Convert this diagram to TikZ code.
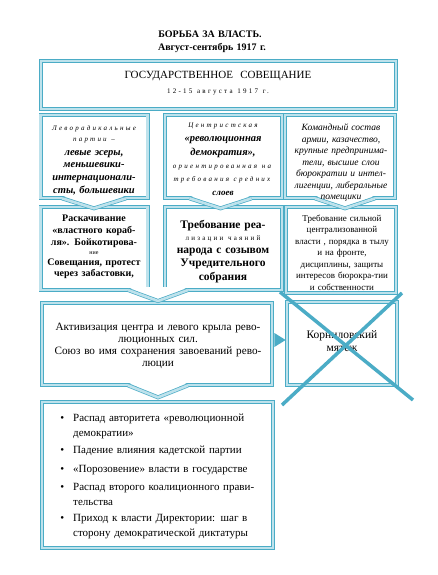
\documentclass[tikz,border=0pt]{standalone}
\usepackage{fontspec}
\setmainfont{Liberation Serif}
\newfontfamily\spc[LetterSpace=32]{Liberation Serif}
\usetikzlibrary{calc}
\definecolor{edge}{RGB}{75,172,198}
\definecolor{band}{RGB}{190,226,236}
\newcommand\fs[2]{\fontsize{#1}{#2}\selectfont}
\tikzset{
  frame/.style={draw=edge, line width=0.7pt, double=band, double distance=2.6pt, fill=white, inner sep=0pt},
  vee/.style={draw=edge, line width=0.7pt, double=band, double distance=2.6pt, line join=miter},
  txt/.style={inner sep=0pt, anchor=base, align=center, text width=#1},
  txt/.default=120pt,
  item/.style={inner sep=0pt, anchor=base west, align=left, text width=200pt, font=\fs{11}{15}},
  cross/.style={draw=edge, line width=3.5pt}
}
\begin{document}
\begin{tikzpicture}[x=1pt,y=-1pt]
\useasboundingbox (0,0) rectangle (437,575);
\fill[white] (0,0) rectangle (437,575);

% title
\node[txt=250pt, font=\bfseries\fs{10}{12}] (title1) at (210,38) {БОРЬБА ЗА ВЛАСТЬ.};
\node[txt=250pt, font=\bfseries\fs{10}{12}] (title2) at (212,51) {Август-сентябрь 1917 г.};

% frames
\node[frame, minimum width=355pt, minimum height=48pt] (top) at (218.5,85) {};
\node[frame, minimum width=107pt, minimum height=83pt] (l2) at (94,156.5) {};
\node[frame, minimum width=117pt, minimum height=83pt] (m2) at (223.5,156.5) {};
\node[frame, minimum width=110pt, minimum height=83pt] (r2) at (340,156.5) {};
\node[frame, minimum width=107pt, minimum height=83pt] (l3) at (94,248.5) {};
\node[frame, minimum width=117pt, minimum height=83pt] (m3) at (223.5,248.5) {};
\node[frame, minimum width=110pt, minimum height=86pt] (r3) at (341,250) {};
\node[frame, minimum width=230pt, minimum height=82pt] (act) at (157,344) {};
\node[frame, minimum width=110pt, minimum height=83pt] (korn) at (342,343.5) {};
\node[frame, minimum width=231pt, minimum height=146pt] (res) at (157.5,475) {};

% chevrons
\coordinate (c1) at ($(l2.south)+(0,0)$);
\coordinate (c2) at ($(m2.south)+(-3,0)$);
\coordinate (c3) at ($(r2.south)+(5,0)$);
\coordinate (c4) at (158,290);
\coordinate (c5) at ($(act.south)+(1,0)$);
\foreach \c/\h/\d in {c1/32/10, c2/31/10, c3/30/10, c4/30/11, c5/30/12}{
  \fill[white] ($(\c)+(-\h,-3)$) -- ($(\c)+(0,\d)$) -- ($(\c)+(\h,-3)$) -- cycle;
  \draw[vee] ($(\c)+(-\h,0)$) -- ($(\c)+(0,\d)$) -- ($(\c)+(\h,0)$);
}

% arrow to Kornilov box
\fill[edge] ($(act.east)+(2,-11)$) -- ($(korn.west)+(-1,-3.5)$) -- ($(act.east)+(2,3)$) -- cycle;

% texts
\node[txt=110pt, font=\spc\itshape\fs{7}{10}] (t2a) at (94,131) {Леворадикальные\\партии \ –};
\node[txt=110pt, font=\bfseries\itshape\fs{10.5}{12.7}] (t2b) at (94,155) {левые эсеры,\\меньшевики-\\интернационали-\\сты, большевики};

\node[txt=115pt, font=\spc\itshape\fs{7}{10}] (t2c) at (223,128) {Центристская};
\node[txt=115pt, font=\bfseries\itshape\fs{10.5}{14}] (t2d) at (223,141) {«революционная\\демократия»,};
\node[txt=118pt, font=\spc\itshape\fs{7}{13}] (t2e) at (222,168) {ориентированная \ на\\требования \ средних};
\node[txt=115pt, font=\bfseries\itshape\fs{9}{11}] (t2f) at (223,195) {слоев};

\node[txt=115pt, font=\itshape\fs{9.5}{11.5}] (t2g) at (341,131) {Командный состав\\армии, казачество,\\крупные предпринима-\\тели, высшие слои\\бюрократии и интел-\\лигенции, либеральные\\помещики};

\node[txt=110pt, font=\bfseries\fs{10}{12}] (t3a) at (94,221) {Раскачивание\\«властного кораб-\\ля». Бойкотирова-};
\node[txt=110pt, font=\fs{6}{8}] (t3b) at (94,254) {ние};
\node[txt=110pt, font=\bfseries\fs{10}{11.5}] (t3c) at (94,265) {Совещания, протест\\через забастовки,};

\node[txt=115pt, font=\bfseries\fs{11.5}{12}] (t3d) at (223,228) {Требование реа-};
\node[txt=115pt, font=\spc\fs{7}{8}] (t3e) at (223,240) {лизации \ чаяний};
\node[txt=115pt, font=\bfseries\fs{11.5}{13.5}] (t3f) at (223,253) {народа с созывом\\Учредительного\\собрания};

\node[txt=115pt, font=\fs{9}{11.5}] (t3g) at (342,221) {Требование сильной\\централизованной\\власти , порядка в тылу\\и на фронте,\\дисциплины, защиты\\интересов бюрокра-тии\\и собственности};

\node[txt=228pt, font=\fs{11.2}{12.3}] (t4a) at (158,330) {Активизация центра и левого крыла рево-\\люционных сил.\\Союз во имя сохранения завоеваний рево-\\люции};
\node[txt=105pt, font=\fs{11.5}{13}] (t4b) at (342,338) {Корниловский\\мятеж};

\node[txt=300pt, font=\fs{11}{12}] (t1a) at (218,79) {ГОСУДАРСТВЕННОЕ \ СОВЕЩАНИЕ};
\node[txt=300pt, font=\spc\fs{7}{8}] (t1b) at (218,94) {12-15 \ августа \ 1917 \ г.};

\node[item] (b1) at (73,421) {\llap{\textbullet\hspace{9pt}}Распад авторитета «революционной\\демократии»};
\node[item] (b2) at (73,453) {\llap{\textbullet\hspace{9pt}}Падение влияния кадетской партии};
\node[item] (b3) at (73,472) {\llap{\textbullet\hspace{9pt}}«Порозовение» власти в государстве};
\node[item] (b4) at (73,490) {\llap{\textbullet\hspace{9pt}}Распад второго коалиционного прави-\\тельства};
\node[item] (b5) at (73,521) {\llap{\textbullet\hspace{9pt}}Приход к власти Директории: шаг в\\сторону демократической диктатуры};

% cross over Kornilov box
\coordinate (x1) at ($(korn.center)+(-62,-51.5)$);
\coordinate (x2) at ($(korn.center)+(71,56.5)$);
\coordinate (x3) at ($(korn.center)+(60,-50.5)$);
\coordinate (x4) at ($(korn.center)+(-60,61.5)$);
\draw[cross] (x1) -- (x2);
\draw[cross] (x3) -- (x4);
\end{tikzpicture}
\end{document}
